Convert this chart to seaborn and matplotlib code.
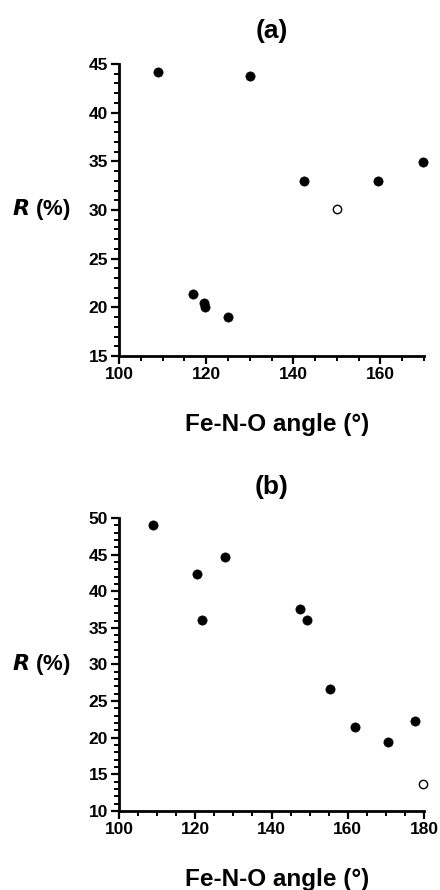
import matplotlib
matplotlib.use("Agg")
import matplotlib.pyplot as plt
import seaborn as sns
import pandas as pd
from matplotlib.ticker import MultipleLocator

sns.set_theme(style="ticks")
plt.rcParams['font.family'] = ['Liberation Sans', 'DejaVu Sans']
plt.rcParams['font.weight'] = 'bold'

# Panel (a)
a_filled_x = [109.0, 130.0, 142.5, 159.4, 169.7, 117.0, 119.5, 119.7, 125.1]
a_filled_y = [44.15, 43.8, 33.0, 33.0, 34.9, 21.4, 20.4, 20.0, 19.0]
a_open_x = [150.0]
a_open_y = [30.1]

# Panel (b)
b_filled_x = [109.0, 120.5, 127.7, 121.8, 147.4, 149.2, 155.3, 162.0, 170.5, 177.7]
b_filled_y = [49.0, 42.3, 44.7, 36.1, 37.6, 36.1, 26.7, 21.4, 19.4, 22.3]
b_open_x = [179.7]
b_open_y = [13.7]

panel_titles = ["(a)", "(b)"]
xlabel = "Fe-N-O angle (°)"
ylabel = r"$\bfit{R}$ (%)"

fig = plt.figure(figsize=(4.4, 8.9), dpi=100)
ax_a = fig.add_axes([0.2705, 0.600, 0.6932, 0.3281])
ax_b = fig.add_axes([0.2705, 0.0888, 0.6932, 0.3292])

configs = [
    (ax_a, a_filled_x, a_filled_y, a_open_x, a_open_y, (100, 170), (15, 45), [100, 120, 140, 160], 0.112),
    (ax_b, b_filled_x, b_filled_y, b_open_x, b_open_y, (100, 180), (10, 50), [100, 120, 140, 160, 180], 0.106),
]

for i, (ax, fx, fy, ox, oy, xl, yl, xt, ty) in enumerate(configs):
    df_f = pd.DataFrame({"angle": fx, "R": fy})
    df_o = pd.DataFrame({"angle": ox, "R": oy})
    sns.scatterplot(data=df_f, x="angle", y="R", ax=ax, color="black",
                    edgecolor="black", s=44, linewidth=0.5, clip_on=False, zorder=3)
    sns.scatterplot(data=df_o, x="angle", y="R", ax=ax, color="white",
                    edgecolor="black", s=36, linewidth=1.0, clip_on=False, zorder=3)
    ax.set_xlim(*xl)
    ax.set_ylim(*yl)
    ax.set_xticks(xt)
    ax.yaxis.set_major_locator(MultipleLocator(5))
    ax.xaxis.set_minor_locator(MultipleLocator(5))
    ax.yaxis.set_minor_locator(MultipleLocator(1))
    for s in ["top", "right"]:
        ax.spines[s].set_visible(False)
    for s in ["left", "bottom"]:
        ax.spines[s].set_linewidth(2.0)
        ax.spines[s].set_color("black")
    ax.tick_params(axis="both", which="major", length=6, width=1.6, labelsize=12.5,
                   color="black", labelcolor="black", pad=2)
    ax.tick_params(axis="both", which="minor", length=3.5, width=1.4, color="black")
    for lab in ax.get_xticklabels() + ax.get_yticklabels():
        lab.set_fontweight("bold")
    ax.set_xlabel(xlabel, fontsize=17.5, fontweight="bold", color="black")
    ax.xaxis.set_label_coords(0.52, -0.195)
    ax.xaxis.label.set_va("top")
    ax.set_ylabel(ylabel, fontsize=16, fontweight="bold", color="black", rotation=0)
    ax.yaxis.set_label_coords(-0.256, 0.5)
    ax.yaxis.label.set_va("center")
    ax.yaxis.label.set_ha("center")
    ax.set_title(panel_titles[i], fontsize=19, fontweight="bold", y=1.0 + ty, pad=0,
                 va="center", color="black")
    ax.set_facecolor("white")

fig.savefig("out.png", dpi=100, facecolor="white")
